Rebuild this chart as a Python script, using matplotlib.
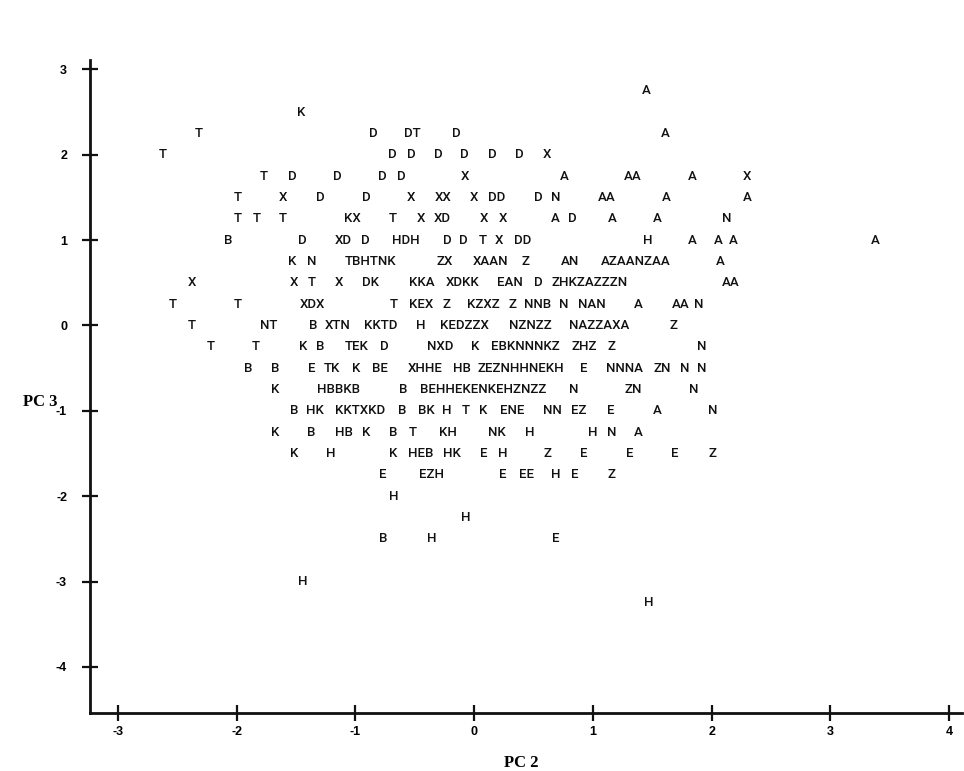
import numpy as np
import matplotlib
matplotlib.use("Agg")
import matplotlib.pyplot as plt

plt.rcParams['axes.unicode_minus'] = False

#%% DATA  (letter groups, PC2 vs PC3)

labels = [
    "A",
    "K",
    "T", "D", "DT", "D", "A",
    "T", "D", "D", "D", "D", "D", "D", "X",
    "T", "D", "D", "D", "D", "X", "A", "AA", "A", "X",
    "T", "X", "D", "D", "X", "XX", "X", "DD", "D", "N", "AA", "A", "A",
    "T", "T", "T", "KX", "T", "X", "XD", "X", "X", "A", "D", "A", "A", "N",
    "B", "D", "XD", "D", "HDH", "D", "D", "T", "X", "DD", "H", "A", "A", "A", "A",
    "K", "N", "TBHTNK", "ZX", "XAAN", "Z", "AN", "AZAANZAA", "A",
    "X", "X", "T", "X", "DK", "KKA", "XDKK", "EAN", "D", "ZHKZAZZZN", "AA",
    "T", "T", "XDX", "T", "KEX", "Z", "KZXZ", "Z", "NNB", "N", "NAN", "A", "AA", "N",
    "T", "NT", "B", "XTN", "KKTD", "H", "KEDZZX", "NZNZZ", "NAZZAXA", "Z",
    "T", "T", "K", "B", "TEK", "D", "NXD", "K", "EBKNNNKZ", "ZHZ", "Z", "N",
    "B", "B", "E", "TK", "K", "BE", "XHHE", "HB", "ZEZNHHNEKH", "E", "NNNA", "ZN", "N", "N",
    "K", "HBBKB", "B", "BEHHEKENKEHZNZZ", "N", "ZN", "N",
    "B", "HK", "KKTXKD", "B", "BK", "H", "T", "K", "ENE", "NN", "EZ", "E", "A", "N",
    "K", "B", "HB", "K", "B", "T", "KH", "NK", "H", "H", "N", "A",
    "K", "H", "K", "HEB", "HK", "E", "H", "Z", "E", "E", "E", "Z",
    "E", "EZH", "E", "EE", "H", "E", "Z",
    "H",
    "H",
    "B", "H", "E",
    "H",
    "H",
]

pc2 = [
    1.45,
    -1.46,
    -2.32, -0.85, -0.52, -0.15, 1.61,
    -2.62, -0.69, -0.53, -0.30, -0.08, 0.15, 0.38, 0.61,
    -1.77, -1.53, -1.15, -0.77, -0.61, -0.08, 0.76, 1.34, 1.84, 2.30,
    -1.99, -1.61, -1.30, -0.91, -0.53, -0.26, 0.00, 0.19, 0.54, 0.69, 1.12, 1.62, 2.30,
    -1.99, -1.83, -1.61, -1.03, -0.69, -0.45, -0.27, 0.08, 0.24, 0.68, 0.83, 1.16, 1.54, 2.13,
    -2.07, -1.45, -1.10, -0.92, -0.58, -0.23, -0.09, 0.07, 0.21, 0.41, 1.46, 1.84, 2.06, 2.18, 3.38,
    -1.53, -1.37, -0.87, -0.25, 0.14, 0.43, 0.81, 1.36, 2.07,
    -2.38, -1.52, -1.37, -1.14, -0.87, -0.44, -0.10, 0.30, 0.54, 0.97, 2.16,
    -2.54, -1.99, -1.36, -0.68, -0.45, -0.23, 0.08, 0.32, 0.53, 0.75, 0.99, 1.38, 1.74, 1.89,
    -2.38, -1.73, -1.36, -1.15, -0.79, -0.45, -0.08, 0.47, 1.05, 1.68,
    -2.22, -1.84, -1.44, -1.30, -0.99, -0.76, -0.29, 0.01, 0.43, 0.93, 1.16, 1.92,
    -1.90, -1.68, -1.37, -1.20, -0.99, -0.79, -0.41, -0.10, 0.39, 0.92, 1.27, 1.58, 1.77, 1.92,
    -1.68, -1.14, -0.60, 0.08, 0.84, 1.34, 1.85,
    -1.52, -1.34, -0.96, -0.61, -0.40, -0.23, -0.07, 0.08, 0.32, 0.66, 0.88, 1.15, 1.54, 2.01,
    -1.68, -1.37, -1.10, -0.91, -0.68, -0.52, -0.22, 0.19, 0.47, 1.00, 1.16, 1.38,
    -1.52, -1.21, -0.68, -0.45, -0.19, 0.08, 0.24, 0.62, 0.92, 1.31, 1.69, 2.01,
    -0.77, -0.36, 0.24, 0.44, 0.69, 0.85, 1.16,
    -0.68,
    -0.07,
    -0.77, -0.36, 0.69,
    -1.44,
    1.47,
]

# pc3 per row (rows sit on a 0.25 grid), repeated by number of groups in row
row_pc3 = [2.75, 2.5, 2.25, 2.0, 1.75, 1.5, 1.25, 1.0, 0.75, 0.5, 0.25, 0.0,
           -0.25, -0.5, -0.75, -1.0, -1.25, -1.5, -1.75, -2.0, -2.25, -2.5, -3.0, -3.25]
row_count = [1, 1, 5, 8, 10, 13, 14, 15, 9, 11, 14, 10,
             12, 14, 7, 14, 12, 12, 7, 1, 1, 3, 1, 1]

pc3 = np.repeat(row_pc3, row_count)

#%% PLOT

fig = plt.figure(figsize=(9.64, 7.71), dpi=100)
ax = fig.add_axes([0.0934, 0.0752, 0.9046, 0.847])

for s, x, y in zip(labels, pc2, pc3):
    ax.text(x, y, s, ha='center', va='center', fontsize=9.5,
            family='Roboto', fontweight='medium', color='#111111')

ax.set_xlim(-3.236, 4.11)
ax.set_ylim(-4.54, 3.11)

for side in ['top', 'right']:
    ax.spines[side].set_visible(False)
for side in ['left', 'bottom']:
    ax.spines[side].set_linewidth(2)
    ax.spines[side].set_color('#111111')

ax.set_xticks(range(-3, 5))
ax.set_yticks(range(-4, 4))
ax.tick_params(axis='both', direction='inout', length=11, width=1.6, color='#111111')
ax.tick_params(axis='x', pad=4)
ax.tick_params(axis='y', pad=11)
for lab in ax.get_xticklabels() + ax.get_yticklabels():
    lab.set_fontsize(9)
    lab.set_fontweight('bold')
    lab.set_family('Liberation Sans')

ax.set_xlabel('PC 2', fontsize=12, fontweight='bold', family='Liberation Serif')
ax.set_ylabel('PC 3', fontsize=12, fontweight='bold', family='Liberation Serif', rotation=0)
ax.xaxis.set_label_coords(0.495, -0.064)
ax.yaxis.set_label_coords(-0.057, 0.464)

fig.savefig('out.png', dpi=100)
